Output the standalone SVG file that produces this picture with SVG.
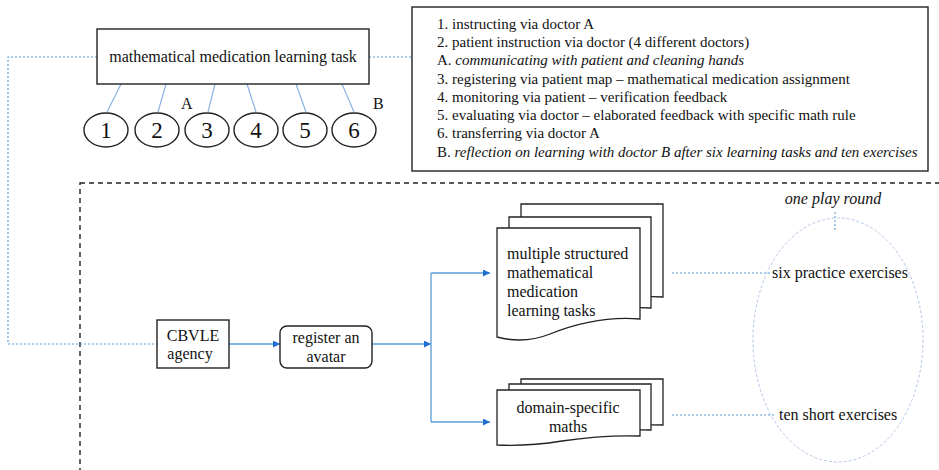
<svg xmlns="http://www.w3.org/2000/svg" width="939" height="470" viewBox="0 0 939 470">
<defs>
<style>
text{font-family:"Liberation Serif","Times New Roman",serif;font-size:16px;fill:#111}
.box{fill:#fff;stroke:#222;stroke-width:1.4}
.doc{fill:#fff;stroke:#222;stroke-width:1.3}
.dot{fill:none;stroke:#5b9bd5;stroke-width:1.1;stroke-dasharray:2 2}
.lnk{fill:none;stroke:#8db3e2;stroke-width:1.2}
.arr{fill:none;stroke:#5b9bd5;stroke-width:1.3;marker-end:url(#ah)}
.num{font-size:23px;text-anchor:middle}
.it{font-style:italic}
.c{text-anchor:middle}
.lg{font-size:15px}
</style>
<marker id="ah" viewBox="0 0 10 10" refX="10" refY="5" markerWidth="7" markerHeight="7" markerUnits="userSpaceOnUse" orient="auto">
<path d="M0,0 L10,5 L0,10 Z" fill="#1f6fd0"/>
</marker>
</defs>
<rect width="939" height="470" fill="#fff"/>

<g id="frame">
<rect x="80" y="183" width="880" height="300" fill="none" stroke="#222" stroke-width="1.4" stroke-dasharray="5 4"/>
</g>

<g id="connectors">
<path class="dot" d="M97,57 H8 V344 H157"/>
<path class="dot" d="M369,57 H412"/>
<line class="lnk" x1="121" y1="84" x2="107" y2="112"/>
<line class="lnk" x1="166" y1="84" x2="158" y2="112"/>
<line class="lnk" x1="215" y1="84" x2="208" y2="112"/>
<line class="lnk" x1="247" y1="84" x2="256" y2="112"/>
<line class="lnk" x1="296" y1="84" x2="306" y2="112"/>
<line class="lnk" x1="342" y1="84" x2="354" y2="112"/>
<line class="arr" x1="229" y1="344" x2="280" y2="344"/>
<line class="arr" x1="372" y1="344" x2="431" y2="344"/>
<path fill="none" stroke="#5b9bd5" stroke-width="1.3" d="M431,273 V422"/>
<line class="arr" x1="431" y1="273" x2="490" y2="273"/>
<line class="arr" x1="431" y1="422" x2="490" y2="422"/>
<path class="dot" d="M672,273 H772"/>
<path class="dot" d="M672,415 H776"/>
<path class="dot" d="M835,212 V230"/>
</g>

<g id="task">
<rect class="box" x="97" y="29" width="272" height="55"/>
<text x="233" y="62" class="c">mathematical medication learning task</text>
</g>

<g id="steps">
<ellipse class="box" cx="106" cy="130" rx="22" ry="17"/>
<text class="num" x="106" y="138">1</text>
<ellipse class="box" cx="157" cy="130" rx="22" ry="17"/>
<text class="num" x="157" y="138">2</text>
<ellipse class="box" cx="207" cy="130" rx="22" ry="17"/>
<text class="num" x="207" y="138">3</text>
<ellipse class="box" cx="256" cy="130" rx="22" ry="17"/>
<text class="num" x="256" y="138">4</text>
<ellipse class="box" cx="305" cy="130" rx="22" ry="17"/>
<text class="num" x="305" y="138">5</text>
<ellipse class="box" cx="354" cy="130" rx="22" ry="17"/>
<text class="num" x="354" y="138">6</text>
<text x="181" y="109">A</text>
<text x="373" y="109">B</text>
</g>

<g id="legend">
<rect class="box" x="412" y="7" width="516" height="164"/>
<text class="lg" x="437" y="29">1. instructing via doctor A</text>
<text class="lg" x="437" y="47">2. patient instruction via doctor (4 different doctors)</text>
<text class="lg" x="437" y="65">A. <tspan class="it">communicating with patient and cleaning hands</tspan></text>
<text class="lg" x="437" y="84">3. registering via patient map – mathematical medication assignment</text>
<text class="lg" x="437" y="102">4. monitoring via patient – verification feedback</text>
<text class="lg" x="437" y="120">5. evaluating via doctor – elaborated feedback with specific math rule</text>
<text class="lg" x="437" y="138">6. transferring via doctor A</text>
<text class="lg" x="437" y="157">B. <tspan class="it">reflection on learning with doctor B after six learning tasks and ten exercises</tspan></text>
</g>

<g id="cbvle">
<rect class="box" x="157" y="320" width="72" height="48"/>
<text x="193" y="341" class="c">CBVLE</text>
<text x="190" y="359" class="c">agency</text>
</g>

<g id="avatar">
<rect class="box" x="280" y="326" width="92" height="42" rx="7"/>
<text x="326" y="343" class="c">register an</text>
<text x="326" y="362" class="c">avatar</text>
</g>

<g id="tasks">
<path class="doc" d="M521,204 H663 V297 C630,295 600,302 575,312 C555,320 535,320 521,316 Z"/>
<path class="doc" d="M509,217 H651 V308 C618,306 588,313 563,323 C543,331 523,331 509,327 Z"/>
<path class="doc" d="M497,228 H640 V319 C605,316 575,324 550,334 C530,342 512,341 497,337 Z"/>
<text x="507" y="259">multiple structured</text>
<text x="507" y="278">mathematical</text>
<text x="507" y="297">medication</text>
<text x="507" y="316">learning tasks</text>
</g>

<g id="maths">
<path class="doc" d="M521,379 H663 V425 C630,424 605,427 585,430 C560,434 540,435 521,434 Z"/>
<path class="doc" d="M509,384 H651 V430 C618,429 593,432 573,435 C548,439 528,440 509,439 Z"/>
<path class="doc" d="M497,390 H640 V436 C607,435 582,438 562,441 C537,445 517,446 497,445 Z"/>
<text x="568" y="413" class="c">domain-specific</text>
<text x="568" y="432" class="c">maths</text>
</g>

<g id="round">
<ellipse cx="838" cy="340" rx="85" ry="122" fill="none" stroke="#b4c7e7" stroke-width="1" stroke-dasharray="3 2"/>
<text x="833" y="204" class="c it">one play round</text>
<text x="772" y="278">six practice exercises</text>
<text x="779" y="420">ten short exercises</text>
</g>
</svg>
